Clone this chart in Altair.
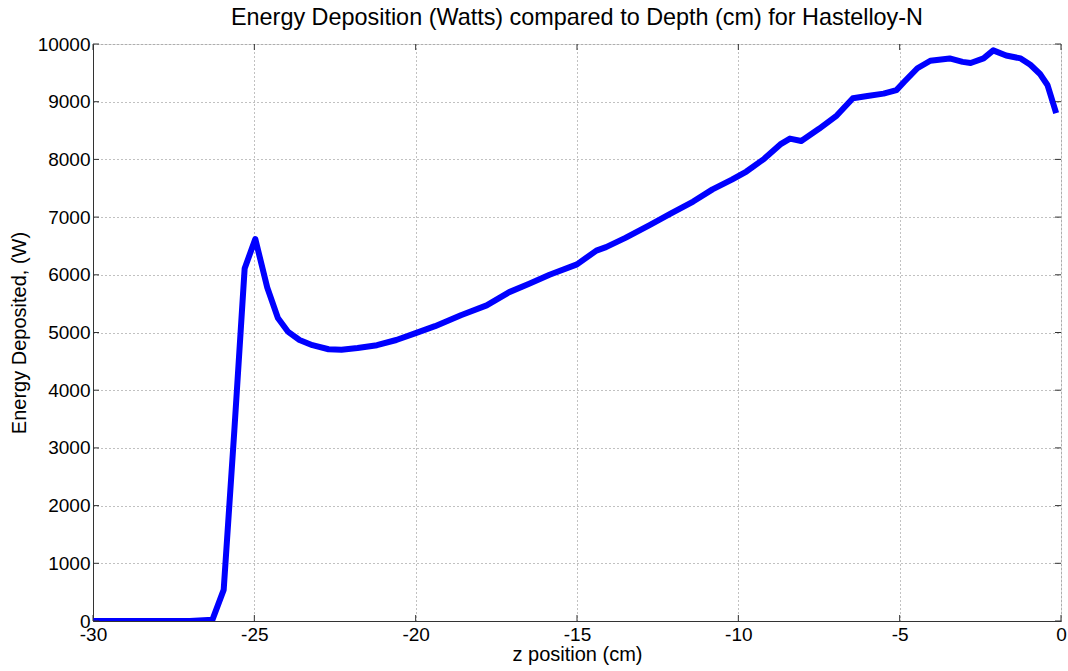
import altair as alt
import pandas as pd

z_cm = [-30.0, -29.0, -28.0, -27.0, -26.3, -25.95, -25.62, -25.3, -24.97, -24.6, -24.27,
        -23.95, -23.6, -23.2, -22.7, -22.3, -21.8, -21.2, -20.6, -20.0, -19.4, -18.6,
        -17.8, -17.1, -16.5, -15.85, -15.0, -14.4, -14.1, -13.5, -12.75, -12.1, -11.4,
        -10.8, -10.2, -9.75, -9.2, -8.7, -8.4, -8.05, -7.5, -6.95, -6.45, -6.0, -5.5,
        -5.1, -4.85, -4.45, -4.05, -3.45, -3.05, -2.8, -2.4, -2.1, -1.7, -1.25, -0.95,
        -0.65, -0.42, -0.15]
energy_w = [0, 0, 0, 0, 20, 540, 3300, 6110, 6620, 5780, 5250,
            5010, 4870, 4780, 4710, 4700, 4730, 4780, 4870, 4990, 5110, 5300,
            5470, 5700, 5840, 6000, 6180, 6420, 6480, 6640, 6860, 7060, 7270,
            7480, 7650, 7790, 8010, 8260, 8360, 8320, 8530, 8760, 9060, 9100, 9140,
            9200, 9350, 9580, 9710, 9750, 9690, 9670, 9750, 9890, 9800, 9750, 9640,
            9480, 9290, 8800]

x_ticks = [-30, -25, -20, -15, -10, -5, 0]
y_ticks = [0, 1000, 2000, 3000, 4000, 5000, 6000, 7000, 8000, 9000, 10000]

df = pd.DataFrame({"z": z_cm, "e": energy_w})
xt = pd.DataFrame({"t": x_ticks})
yt = pd.DataFrame({"t": y_ticks})

FONT = "Liberation Sans"
xscale = alt.Scale(domain=[-30, 0], nice=False, zero=False)
yscale = alt.Scale(domain=[0, 10000], nice=False)

common = dict(grid=True, gridDash=[1, 3], gridColor="#777777", gridOpacity=0.9,
              tickSize=0, labelFontSize=19, labelFont=FONT, labelColor="black",
              titleFont=FONT, titleFontSize=20, titleFontWeight="normal",
              titleColor="black", domainColor="#333333", labelFlush=False,
              labelOverlap=False, labelExpr="datum.value + ''")

line = alt.Chart(df).mark_line(color="#0000FF", strokeWidth=6, strokeJoin="round", clip=True).encode(
    x=alt.X("z:Q", scale=xscale,
            axis=alt.Axis(values=x_ticks, title="z position (cm)", labelPadding=4,
                          titlePadding=0, **common)),
    y=alt.Y("e:Q", scale=yscale,
            axis=alt.Axis(values=y_ticks, title="Energy Deposited, (W)", labelPadding=3,
                          titlePadding=8, **common)),
)

tick_len = 6
xt_bottom = alt.Chart(xt).mark_rule(color="#333333", strokeWidth=1).encode(
    x=alt.X("t:Q", scale=xscale), y=alt.value(577), y2=alt.value(577 - tick_len))
xt_top = alt.Chart(xt).mark_rule(color="#333333", strokeWidth=1).encode(
    x=alt.X("t:Q", scale=xscale), y=alt.value(0), y2=alt.value(tick_len))
yt_left = alt.Chart(yt).mark_rule(color="#333333", strokeWidth=1).encode(
    y=alt.Y("t:Q", scale=yscale), x=alt.value(0), x2=alt.value(tick_len))
yt_right = alt.Chart(yt).mark_rule(color="#333333", strokeWidth=1).encode(
    y=alt.Y("t:Q", scale=yscale), x=alt.value(968), x2=alt.value(968 - tick_len))

chart = alt.layer(line, xt_bottom, xt_top, yt_left, yt_right).properties(
    width=968, height=577,
    title=alt.TitleParams("Energy Deposition (Watts) compared to Depth (cm) for Hastelloy-N",
                          font=FONT, fontSize=23.4, fontWeight="normal", color="black",
                          anchor="middle", offset=5),
    autosize=alt.AutoSizeParams(type="none"),
    padding={"left": 93, "top": 44, "right": 7, "bottom": 50},
).configure_view(stroke="#333333", strokeWidth=1).configure(background="white")

chart.save("out.html", embed_options={"renderer": "svg", "actions": False})
